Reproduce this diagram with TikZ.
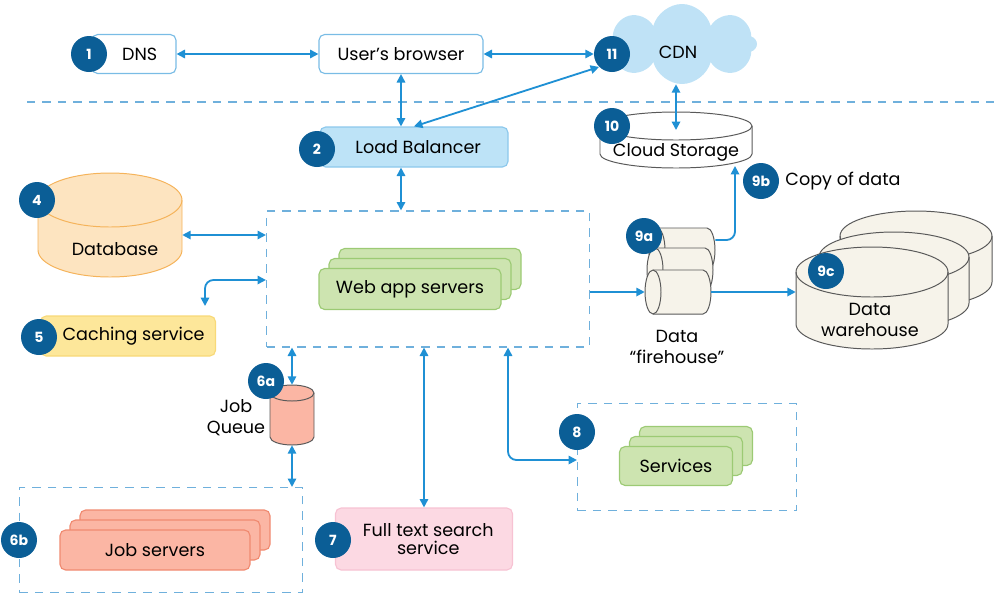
\documentclass[tikz,border=0pt]{standalone}
\usepackage{fontspec}
\setmainfont{Poppins}
\usetikzlibrary{shapes.symbols,shadows,arrows.meta}
\definecolor{badgeblue}{HTML}{0B5E96}
\definecolor{arrowblue}{HTML}{1F90D4}
\definecolor{dashblue}{HTML}{6FB0DC}
\definecolor{lbfill}{HTML}{BDE3F7}
\definecolor{lbline}{HTML}{8CC8EC}
\definecolor{webfill}{HTML}{CDE4B0}
\definecolor{webline}{HTML}{9CCA74}
\definecolor{dbfill}{HTML}{FDE4C0}
\definecolor{dbline}{HTML}{F5B35A}
\definecolor{cachefill}{HTML}{FDE79A}
\definecolor{cacheline}{HTML}{F8D978}
\definecolor{jobfill}{HTML}{FBB6A4}
\definecolor{jobline}{HTML}{F08A70}
\definecolor{ftsfill}{HTML}{FCD9E3}
\definecolor{ftsline}{HTML}{F7C2D3}
\definecolor{whfill}{HTML}{F6F3EA}
\definecolor{cdnfill}{HTML}{BFE2F6}
\newcommand\px{0.025cm}
% vertical cylinder: name, cx, top cy, rx, ry, body height, style
\newcommand\vcyl[7]{%
  \path[#7] (#2-#4,#3) -- ++(0,#6) arc[start angle=180,end angle=360,x radius=#4*\px,y radius=#5*\px]
    -- ++(0,-#6) arc[start angle=0,end angle=180,x radius=#4*\px,y radius=#5*\px] -- cycle;
  \draw[#7, fill=none] (#2-#4,#3) arc[start angle=180,end angle=360,x radius=#4*\px,y radius=#5*\px];
  \node[inner sep=0pt, minimum width=2*#4*\px, minimum height=(#6+2*#5)*\px](#1) at (#2,#3+#6/2) {};}
% horizontal cylinder: name, cx, cy, half length, ry, rx, style
\newcommand\hcyl[7]{%
  \path[#7] (#2-#4,#3-#5) -- ++(2*#4,0) arc[start angle=90,end angle=-90,x radius=#6*\px,y radius=#5*\px]
    -- ++(-2*#4,0) arc[start angle=270,end angle=90,x radius=#6*\px,y radius=#5*\px] -- cycle;
  \draw[#7, fill=none] (#2-#4,#3+#5) arc[start angle=-90,end angle=90,x radius=#6*\px,y radius=#5*\px];
  \node[inner sep=0pt, minimum width=(2*#4+2*#6)*\px, minimum height=2*#5*\px](#1) at (#2,#3) {};}
\tikzset{
  box/.style={draw=arrowblue!60, rounded corners=4pt, line width=0.8pt, inner sep=0pt},
  stack/.style={rounded corners=4pt, line width=0.8pt, inner sep=0pt,
    double copy shadow={shadow xshift=10*\px, shadow yshift=10*\px}},
  badge/.style={circle, fill=badgeblue, text=white, font=\bfseries, minimum size=36*\px, inner sep=0pt},
  group/.style={draw=dashblue, dashed, dash pattern=on 6pt off 5pt, line width=0.8pt, inner sep=0pt},
  cyl/.style={draw=black!65, line width=0.7pt},
  link/.style={<->, draw=arrowblue, line width=1.3pt, >={Triangle[length=6pt,width=6pt]}},
  lbl/.style={draw=none, align=center}
}
\begin{document}
\begin{tikzpicture}[x=\px, y=-\px, font=\fontsize{12.5}{15}\selectfont]
\useasboundingbox (0,0) rectangle (1000,600);
% outside
\node[box, minimum width=84*\px, minimum height=39*\px](dns) at (134,54) {\hspace{8pt}DNS};
\node[badge](b1) at (89,54) {1};
\node[box, minimum width=164*\px, minimum height=39*\px](browser) at (401,54) {User’s browser};
\node[cloud, cloud puffs=8, aspect=1.7, fill=cdnfill, minimum width=150*\px, minimum height=80*\px](cdn) at (682,44) {};
\node[lbl](cdnText) at (678,52) {CDN};
\node[badge](b11) at (612,54) {11};
\draw[dashblue, dashed, dash pattern=on 6pt off 5pt, line width=0.8pt] (27,102) -- (995,102);
% inside
\node[box, fill=lbfill, draw=lbline, minimum width=188*\px, minimum height=40*\px](lb) at (414,147) {\hspace{6pt}Load Balancer};
\node[badge](b2) at (317,149) {2};
\vcyl{storage}{676}{126}{76}{14}{28}{cyl, fill=white}
\node[lbl](storageText) at (676,152) {Cloud Storage};
\node[badge](b10) at (612,126) {10};
\node[badge](b9b) at (761,181) {9b};
\node[lbl](copyText) at (843,181) {Copy of data};
\vcyl{db}{110}{200}{72}{27}{50}{cyl, fill=dbfill, draw=dbline}
\node[lbl](dbText) at (115,249) {Database};
\node[badge](b4) at (37,200) {4};
\node[group, minimum width=323*\px, minimum height=136*\px](web) at (428,279) {};
\node[stack, fill=webfill, draw=webline, minimum width=182*\px, minimum height=41*\px](webApp) at (410,289) {Web app servers};
\node[box, fill=cachefill, draw=cacheline, minimum width=175*\px, minimum height=40*\px](cache) at (128,336) {\hspace{8pt}Caching service};
\node[badge](b5) at (39,337) {5};
\vcyl{queue}{292}{393}{22}{8}{44}{cyl, fill=jobfill}
\node[lbl](queueText) at (236,418) {Job\\Queue};
\node[badge](b6a) at (266,381) {6a};
\node[group, minimum width=283*\px, minimum height=105*\px](jobs) at (161,540) {};
\node[stack, fill=jobfill, draw=jobline, minimum width=190*\px, minimum height=40*\px](jobServers) at (155,550) {Job servers};
\node[badge](b6b) at (19,540) {6b};
\node[box, fill=ftsfill, draw=ftsline, minimum width=177*\px, minimum height=62*\px](fts) at (424,539) {\hspace{6pt}\shortstack{Full text search\\service}};
\node[badge](b7) at (333,540) {7};
\node[group, minimum width=219*\px, minimum height=107*\px](svcGroup) at (687,457) {};
\node[stack, fill=webfill, draw=webline, minimum width=113*\px, minimum height=39*\px](services) at (676,466) {Services};
\node[badge](b8) at (577,432) {8};
% data path
\hcyl{fireBack}{682}{250}{25}{22}{8}{cyl, fill=whfill}
\hcyl{fireMid}{680}{270}{25}{22}{8}{cyl, fill=whfill}
\hcyl{fireFront}{678}{292}{25}{22}{8}{cyl, fill=whfill}
\node[lbl](fireText) at (677,347) {Data\\“firehouse”};
\node[badge](b9a) at (644,236) {9a};
\vcyl{whBack}{916}{236}{76}{25}{46}{cyl, fill=whfill}
\vcyl{whMid}{894}{257}{75}{25}{46}{cyl, fill=whfill}
\vcyl{whFront}{872}{272}{76}{25}{52}{cyl, fill=whfill}
\node[lbl](whText) at (870,320) {Data\\warehouse};
\node[badge](b9c) at (826,271) {9c};
% links
\draw[link] (dns.east) -- (browser.west);
\draw[link] (browser.east) -- (b11.west);
\draw[link] (browser.south) -- (lb.north -| browser.south);
\draw[link] (b11.south west) -- (lb.north);
\draw[link] (lb.south -| browser.south) -- (web.north -| browser.south);
\draw[link] (cdn.south -| storage.center) -- (storage.north |- 0,130);
\draw[link] (db.east |- 0,235) -- (web.west |- 0,235);
\draw[link, rounded corners=6pt] (web.west |- 0,280) -- (205,280) -- (205,306);
\draw[link] (web.south -| queue.north) -- (queue.north);
\draw[link] (queue.south) -- (jobs.north -| queue.south);
\draw[link] (web.south -| fts.north) -- (fts.north);
\draw[link, rounded corners=6pt] (web.south -| 508,0) -- (508,460) -- (svcGroup.west |- 0,460);
\draw[link, -{Triangle[length=6pt,width=6pt]}] (web.east |- fireFront) -- (fireFront.west);
\draw[link, -{Triangle[length=6pt,width=6pt]}] (fireFront.east) -- (whFront.west |- fireFront);
\draw[link, -{Triangle[length=6pt,width=6pt]}, rounded corners=6pt] (fireBack.east |- 0,240) -- (735,240) -- (735,166);
\end{tikzpicture}
\end{document}
